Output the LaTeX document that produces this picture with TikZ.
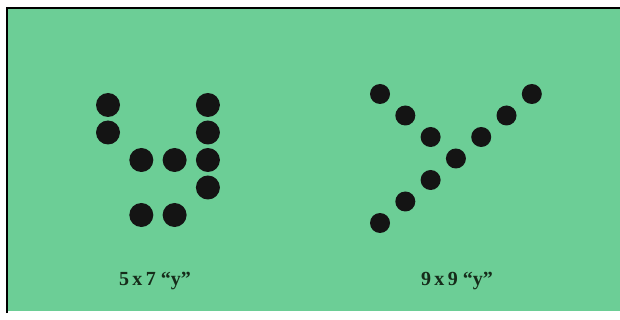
\documentclass[tikz,border=0pt]{standalone}
\usepackage{xcolor}
\usepackage{fontspec}
\setmainfont{Liberation Serif}
\usepackage{tikz}
\usetikzlibrary{positioning}

\definecolor{panelgreen}{RGB}{108,206,150}
\definecolor{inkgreen}{RGB}{22,44,26}

\begin{document}
\begin{tikzpicture}[
  x=1pt, y=-1pt,
  bigdot/.style={circle, fill=black!92, minimum size=24pt, inner sep=0pt},
  smalldot/.style={circle, fill=black!92, minimum size=20pt, inner sep=0pt},
  caption/.style={font=\fontsize{20}{23}\selectfont\bfseries, text=inkgreen, inner sep=0pt}]
  \useasboundingbox (0,0) rectangle (620,320);
  \fill[white] (0,0) rectangle (620,320);
  \fill[panelgreen] (7,8) rectangle (620,311);
  \draw[line width=2.2pt] (7,313) -- (7,8) -- (620,8);
  % 5x7 matrix letter
  \foreach \c/\r [count=\i] in {0/0,0/1,1/2,2/2,3/0,3/1,3/2,3/3,1/4,2/4}
    \node[bigdot] (a\i) at ({108+33.3*\c},{105+27.5*\r}) {};
  % 9x9 matrix letter
  \foreach \c/\r [count=\i] in {0/0,1/1,2/2,3/3,4/2,5/1,6/0,2/4,1/5,0/6}
    \node[smalldot] (b\i) at ({380+25.3*\c},{94+21.5*\r}) {};
  \node[caption] (capa) at (155,281) {5\,x\,7 ``y''};
  \node[caption] (capb) at (457,281) {9\,x\,9 ``y''};
\end{tikzpicture}
\end{document}
